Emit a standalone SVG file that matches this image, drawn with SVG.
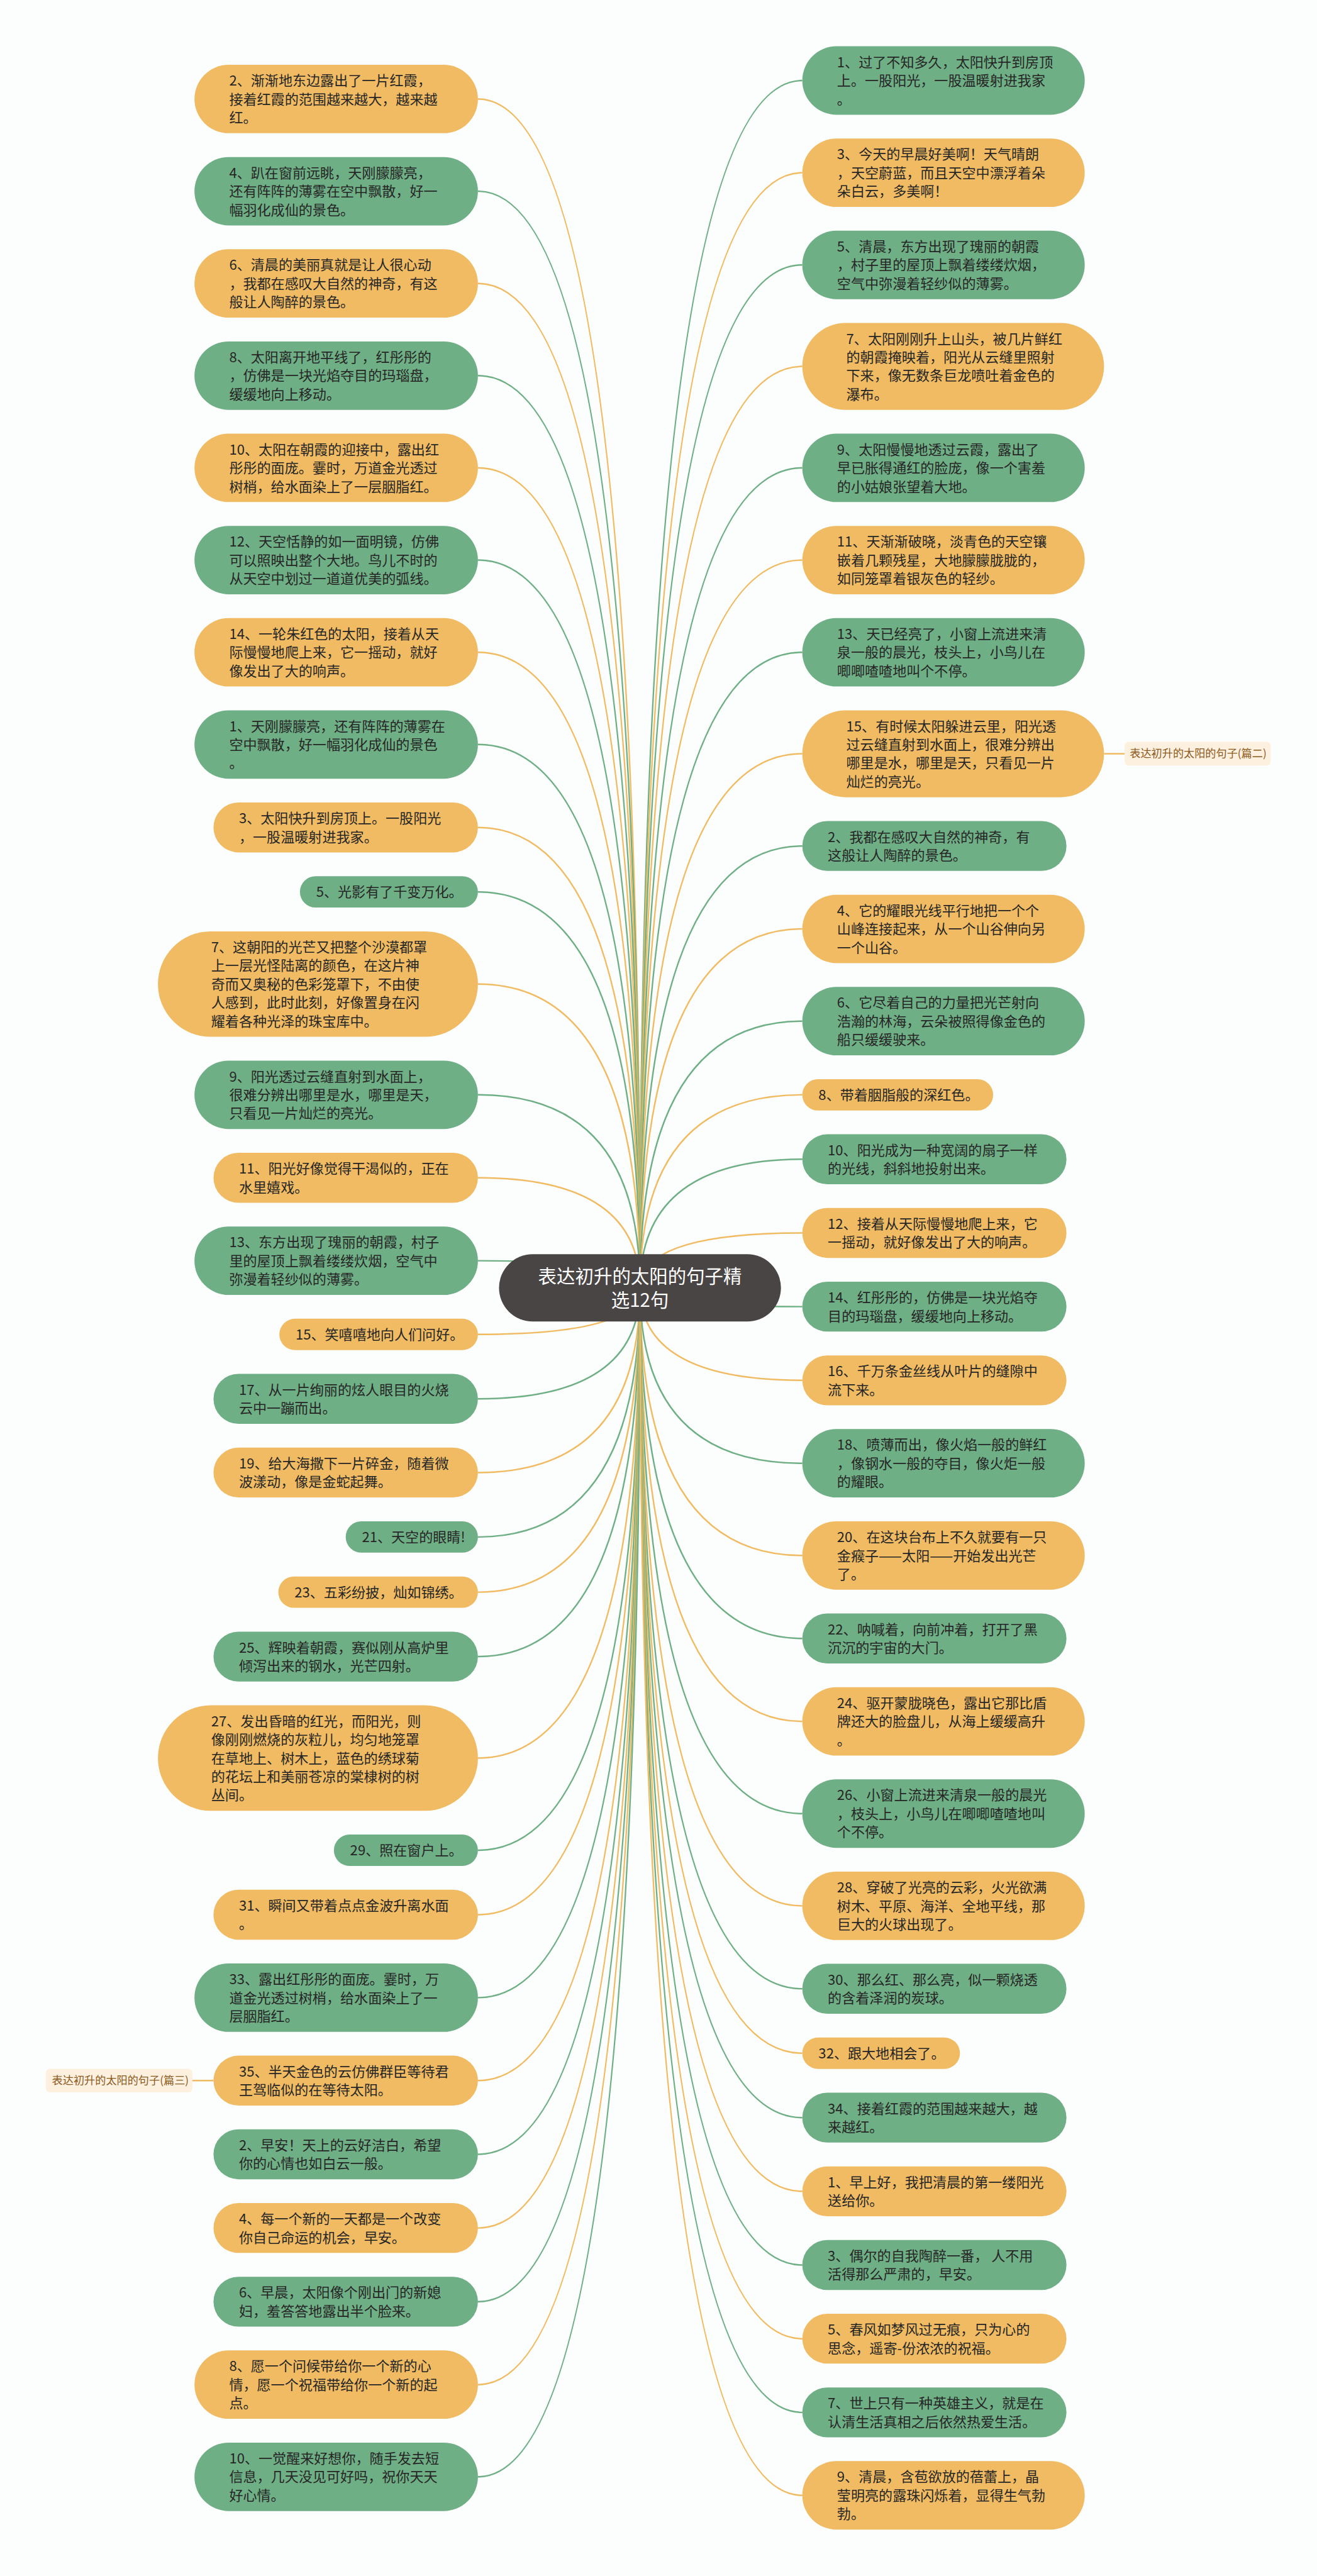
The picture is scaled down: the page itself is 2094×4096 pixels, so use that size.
<svg xmlns="http://www.w3.org/2000/svg" width="2094" height="4096" viewBox="0 0 2094 4096">
<style>
.o{fill:#F0BB62}
.g{fill:#6FAF85}
.t{font-family:"Noto Sans CJK SC","Noto Sans",sans-serif;font-size:27px;fill:#262626}
.ct{font-family:"Noto Sans CJK SC","Noto Sans",sans-serif;font-size:36px;fill:#FFFFFF;text-anchor:middle}
.lt{font-family:"Noto Sans CJK SC","Noto Sans",sans-serif;font-size:21px;fill:#8A5A1C}
.lb{fill:#FDF0DF}
.co{fill:none;stroke:#F0BB62;stroke-width:3}
.cg{fill:none;stroke:#6FAF85;stroke-width:3}
</style>
<rect x="0" y="0" width="2094" height="4096" fill="#FCFEFD"/>
<g transform="scale(0.81797)">
<g id="connectors">
<path class="co" d="M1244 2503.5Q1244 192.5 929 192.5"/>
<path class="cg" d="M1244 2503.5Q1244 371.75 929 371.75"/>
<path class="co" d="M1244 2503.5Q1244 551 929 551"/>
<path class="cg" d="M1244 2503.5Q1244 730.25 929 730.25"/>
<path class="co" d="M1244 2503.5Q1244 909.5 929 909.5"/>
<path class="cg" d="M1244 2503.5Q1244 1088.75 929 1088.75"/>
<path class="co" d="M1244 2503.5Q1244 1268 929 1268"/>
<path class="cg" d="M1244 2503.5Q1244 1447.25 929 1447.25"/>
<path class="co" d="M1244 2503.5Q1244 1608.5 929 1608.5"/>
<path class="cg" d="M1244 2503.5Q1244 1733.75 929 1733.75"/>
<path class="co" d="M1244 2503.5Q1244 1913 929 1913"/>
<path class="cg" d="M1244 2503.5Q1244 2128.25 929 2128.25"/>
<path class="co" d="M1244 2503.5Q1244 2289.5 929 2289.5"/>
<path class="cg" d="M1244 2503.5Q1244 2450.75 929 2450.75"/>
<path class="co" d="M1244 2503.5Q1244 2594 929 2594"/>
<path class="cg" d="M1244 2503.5Q1244 2719.25 929 2719.25"/>
<path class="co" d="M1244 2503.5Q1244 2862.5 929 2862.5"/>
<path class="cg" d="M1244 2503.5Q1244 2987.75 929 2987.75"/>
<path class="co" d="M1244 2503.5Q1244 3095 929 3095"/>
<path class="cg" d="M1244 2503.5Q1244 3220.25 929 3220.25"/>
<path class="co" d="M1244 2503.5Q1244 3417.5 929 3417.5"/>
<path class="cg" d="M1244 2503.5Q1244 3596.75 929 3596.75"/>
<path class="co" d="M1244 2503.5Q1244 3722 929 3722"/>
<path class="cg" d="M1244 2503.5Q1244 3883.25 929 3883.25"/>
<path class="co" d="M1244 2503.5Q1244 4044.5 929 4044.5"/>
<path class="cg" d="M1244 2503.5Q1244 4187.75 929 4187.75"/>
<path class="co" d="M1244 2503.5Q1244 4331 929 4331"/>
<path class="cg" d="M1244 2503.5Q1244 4474.25 929 4474.25"/>
<path class="co" d="M1244 2503.5Q1244 4635.5 929 4635.5"/>
<path class="cg" d="M1244 2503.5Q1244 4814.75 929 4814.75"/>
<path class="cg" d="M1244 2503.5Q1244 156.5 1559.5 156.5"/>
<path class="co" d="M1244 2503.5Q1244 335.75 1559.5 335.75"/>
<path class="cg" d="M1244 2503.5Q1244 515 1559.5 515"/>
<path class="co" d="M1244 2503.5Q1244 712.25 1559.5 712.25"/>
<path class="cg" d="M1244 2503.5Q1244 909.5 1559.5 909.5"/>
<path class="co" d="M1244 2503.5Q1244 1088.75 1559.5 1088.75"/>
<path class="cg" d="M1244 2503.5Q1244 1268 1559.5 1268"/>
<path class="co" d="M1244 2503.5Q1244 1465.25 1559.5 1465.25"/>
<path class="cg" d="M1244 2503.5Q1244 1644.5 1559.5 1644.5"/>
<path class="co" d="M1244 2503.5Q1244 1805.75 1559.5 1805.75"/>
<path class="cg" d="M1244 2503.5Q1244 1985 1559.5 1985"/>
<path class="co" d="M1244 2503.5Q1244 2128.25 1559.5 2128.25"/>
<path class="cg" d="M1244 2503.5Q1244 2253.5 1559.5 2253.5"/>
<path class="co" d="M1244 2503.5Q1244 2396.75 1559.5 2396.75"/>
<path class="cg" d="M1244 2503.5Q1244 2540 1559.5 2540"/>
<path class="co" d="M1244 2503.5Q1244 2683.25 1559.5 2683.25"/>
<path class="cg" d="M1244 2503.5Q1244 2844.5 1559.5 2844.5"/>
<path class="co" d="M1244 2503.5Q1244 3023.75 1559.5 3023.75"/>
<path class="cg" d="M1244 2503.5Q1244 3185 1559.5 3185"/>
<path class="co" d="M1244 2503.5Q1244 3346.25 1559.5 3346.25"/>
<path class="cg" d="M1244 2503.5Q1244 3525.5 1559.5 3525.5"/>
<path class="co" d="M1244 2503.5Q1244 3704.75 1559.5 3704.75"/>
<path class="cg" d="M1244 2503.5Q1244 3866 1559.5 3866"/>
<path class="co" d="M1244 2503.5Q1244 3991.25 1559.5 3991.25"/>
<path class="cg" d="M1244 2503.5Q1244 4116.5 1559.5 4116.5"/>
<path class="co" d="M1244 2503.5Q1244 4259.75 1559.5 4259.75"/>
<path class="cg" d="M1244 2503.5Q1244 4403 1559.5 4403"/>
<path class="co" d="M1244 2503.5Q1244 4546.25 1559.5 4546.25"/>
<path class="cg" d="M1244 2503.5Q1244 4689.5 1559.5 4689.5"/>
<path class="co" d="M1244 2503.5Q1244 4850.75 1559.5 4850.75"/>
<path class="co" d="M2146 1465.25L2186 1465.25"/>
<path class="co" d="M374 4044.5L415 4044.5"/>
</g>

<g id="L1"><rect class="o" x="378" y="126" width="551" height="133" rx="66.5"/><text class="t"><tspan x="445.5" y="166.5">2、渐渐地东边露出了一片红霞，</tspan><tspan x="445.5" y="202.5">接着红霞的范围越来越大，越来越</tspan><tspan x="445.5" y="238.5">红。</tspan></text></g>
<g id="L2"><rect class="g" x="378" y="305.25" width="551" height="133" rx="66.5"/><text class="t"><tspan x="445.5" y="345.75">4、趴在窗前远眺，天刚朦朦亮，</tspan><tspan x="445.5" y="381.75">还有阵阵的薄雾在空中飘散，好一</tspan><tspan x="445.5" y="417.75">幅羽化成仙的景色。</tspan></text></g>
<g id="L3"><rect class="o" x="378" y="484.5" width="551" height="133" rx="66.5"/><text class="t"><tspan x="445.5" y="525">6、清晨的美丽真就是让人很心动</tspan><tspan x="445.5" y="561">，我都在感叹大自然的神奇，有这</tspan><tspan x="445.5" y="597">般让人陶醉的景色。</tspan></text></g>
<g id="L4"><rect class="g" x="378" y="663.75" width="551" height="133" rx="66.5"/><text class="t"><tspan x="445.5" y="704.25">8、太阳离开地平线了，红彤彤的</tspan><tspan x="445.5" y="740.25">，仿佛是一块光焰夺目的玛瑙盘，</tspan><tspan x="445.5" y="776.25">缓缓地向上移动。</tspan></text></g>
<g id="L5"><rect class="o" x="378" y="843" width="551" height="133" rx="66.5"/><text class="t"><tspan x="445.5" y="883.5">10、太阳在朝霞的迎接中，露出红</tspan><tspan x="445.5" y="919.5">彤彤的面庞。霎时，万道金光透过</tspan><tspan x="445.5" y="955.5">树梢，给水面染上了一层胭脂红。</tspan></text></g>
<g id="L6"><rect class="g" x="378" y="1022.25" width="551" height="133" rx="66.5"/><text class="t"><tspan x="445.5" y="1062.75">12、天空恬静的如一面明镜，仿佛</tspan><tspan x="445.5" y="1098.75">可以照映出整个大地。鸟儿不时的</tspan><tspan x="445.5" y="1134.75">从天空中划过一道道优美的弧线。</tspan></text></g>
<g id="L7"><rect class="o" x="378" y="1201.5" width="551" height="133" rx="66.5"/><text class="t"><tspan x="445.5" y="1242">14、一轮朱红色的太阳，接着从天</tspan><tspan x="445.5" y="1278">际慢慢地爬上来，它一摇动，就好</tspan><tspan x="445.5" y="1314">像发出了大的响声。</tspan></text></g>
<g id="L8"><rect class="g" x="378" y="1380.75" width="551" height="133" rx="66.5"/><text class="t"><tspan x="445.5" y="1421.25">1、天刚朦朦亮，还有阵阵的薄雾在</tspan><tspan x="445.5" y="1457.25">空中飘散，好一幅羽化成仙的景色</tspan><tspan x="445.5" y="1493.25">。</tspan></text></g>
<g id="L9"><rect class="o" x="415" y="1560" width="514" height="97" rx="48.5"/><text class="t"><tspan x="464.5" y="1600.5">3、太阳快升到房顶上。一股阳光</tspan><tspan x="464.5" y="1636.5">，一股温暖射进我家。</tspan></text></g>
<g id="L10"><rect class="g" x="583" y="1703.25" width="346" height="61" rx="30.5"/><text class="t"><tspan x="614.5" y="1743.75">5、光影有了千变万化。</tspan></text></g>
<g id="L11"><rect class="o" x="307" y="1810.5" width="622" height="205" rx="102.5"/><text class="t"><tspan x="410.5" y="1851">7、这朝阳的光芒又把整个沙漠都罩</tspan><tspan x="410.5" y="1887">上一层光怪陆离的颜色，在这片神</tspan><tspan x="410.5" y="1923">奇而又奥秘的色彩笼罩下，不由使</tspan><tspan x="410.5" y="1959">人感到，此时此刻，好像置身在闪</tspan><tspan x="410.5" y="1995">耀着各种光泽的珠宝库中。</tspan></text></g>
<g id="L12"><rect class="g" x="378" y="2061.75" width="551" height="133" rx="66.5"/><text class="t"><tspan x="445.5" y="2102.25">9、阳光透过云缝直射到水面上，</tspan><tspan x="445.5" y="2138.25">很难分辨出哪里是水，哪里是天，</tspan><tspan x="445.5" y="2174.25">只看见一片灿烂的亮光。</tspan></text></g>
<g id="L13"><rect class="o" x="415" y="2241" width="514" height="97" rx="48.5"/><text class="t"><tspan x="464.5" y="2281.5">11、阳光好像觉得干渴似的，正在</tspan><tspan x="464.5" y="2317.5">水里嬉戏。</tspan></text></g>
<g id="L14"><rect class="g" x="378" y="2384.25" width="551" height="133" rx="66.5"/><text class="t"><tspan x="445.5" y="2424.75">13、东方出现了瑰丽的朝霞，村子</tspan><tspan x="445.5" y="2460.75">里的屋顶上飘着缕缕炊烟，空气中</tspan><tspan x="445.5" y="2496.75">弥漫着轻纱似的薄雾。</tspan></text></g>
<g id="L15"><rect class="o" x="543" y="2563.5" width="386" height="61" rx="30.5"/><text class="t"><tspan x="574.5" y="2604">15、笑嘻嘻地向人们问好。</tspan></text></g>
<g id="L16"><rect class="g" x="415" y="2670.75" width="514" height="97" rx="48.5"/><text class="t"><tspan x="464.5" y="2711.25">17、从一片绚丽的炫人眼目的火烧</tspan><tspan x="464.5" y="2747.25">云中一蹦而出。</tspan></text></g>
<g id="L17"><rect class="o" x="415" y="2814" width="514" height="97" rx="48.5"/><text class="t"><tspan x="464.5" y="2854.5">19、给大海撒下一片碎金，随着微</tspan><tspan x="464.5" y="2890.5">波漾动，像是金蛇起舞。</tspan></text></g>
<g id="L18"><rect class="g" x="672" y="2957.25" width="257" height="61" rx="30.5"/><text class="t"><tspan x="703.5" y="2997.75">21、天空的眼睛!</tspan></text></g>
<g id="L19"><rect class="o" x="541" y="3064.5" width="388" height="61" rx="30.5"/><text class="t"><tspan x="572.5" y="3105">23、五彩纷披，灿如锦绣。</tspan></text></g>
<g id="L20"><rect class="g" x="415" y="3171.75" width="514" height="97" rx="48.5"/><text class="t"><tspan x="464.5" y="3212.25">25、辉映着朝霞，赛似刚从高炉里</tspan><tspan x="464.5" y="3248.25">倾泻出来的钢水，光芒四射。</tspan></text></g>
<g id="L21"><rect class="o" x="307" y="3315" width="622" height="205" rx="102.5"/><text class="t"><tspan x="410.5" y="3355.5">27、发出昏暗的红光，而阳光，则</tspan><tspan x="410.5" y="3391.5">像刚刚燃烧的灰粒儿，均匀地笼罩</tspan><tspan x="410.5" y="3427.5">在草地上、树木上，蓝色的绣球菊</tspan><tspan x="410.5" y="3463.5">的花坛上和美丽苍凉的棠棣树的树</tspan><tspan x="410.5" y="3499.5">丛间。</tspan></text></g>
<g id="L22"><rect class="g" x="649" y="3566.25" width="280" height="61" rx="30.5"/><text class="t"><tspan x="680.5" y="3606.75">29、照在窗户上。</tspan></text></g>
<g id="L23"><rect class="o" x="415" y="3673.5" width="514" height="97" rx="48.5"/><text class="t"><tspan x="464.5" y="3714">31、瞬间又带着点点金波升离水面</tspan><tspan x="464.5" y="3750">。</tspan></text></g>
<g id="L24"><rect class="g" x="378" y="3816.75" width="551" height="133" rx="66.5"/><text class="t"><tspan x="445.5" y="3857.25">33、露出红彤彤的面庞。霎时，万</tspan><tspan x="445.5" y="3893.25">道金光透过树梢，给水面染上了一</tspan><tspan x="445.5" y="3929.25">层胭脂红。</tspan></text></g>
<g id="L25"><rect class="o" x="415" y="3996" width="514" height="97" rx="48.5"/><text class="t"><tspan x="464.5" y="4036.5">35、半天金色的云仿佛群臣等待君</tspan><tspan x="464.5" y="4072.5">王驾临似的在等待太阳。</tspan></text></g>
<g id="L26"><rect class="g" x="415" y="4139.25" width="514" height="97" rx="48.5"/><text class="t"><tspan x="464.5" y="4179.75">2、早安！天上的云好洁白，希望</tspan><tspan x="464.5" y="4215.75">你的心情也如白云一般。</tspan></text></g>
<g id="L27"><rect class="o" x="415" y="4282.5" width="514" height="97" rx="48.5"/><text class="t"><tspan x="464.5" y="4323">4、每一个新的一天都是一个改变</tspan><tspan x="464.5" y="4359">你自己命运的机会，早安。</tspan></text></g>
<g id="L28"><rect class="g" x="415" y="4425.75" width="514" height="97" rx="48.5"/><text class="t"><tspan x="464.5" y="4466.25">6、早晨，太阳像个刚出门的新媳</tspan><tspan x="464.5" y="4502.25">妇，羞答答地露出半个脸来。</tspan></text></g>
<g id="L29"><rect class="o" x="378" y="4569" width="551" height="133" rx="66.5"/><text class="t"><tspan x="445.5" y="4609.5">8、愿一个问候带给你一个新的心</tspan><tspan x="445.5" y="4645.5">情，愿一个祝福带给你一个新的起</tspan><tspan x="445.5" y="4681.5">点。</tspan></text></g>
<g id="L30"><rect class="g" x="378" y="4748.25" width="551" height="133" rx="66.5"/><text class="t"><tspan x="445.5" y="4788.75">10、一觉醒来好想你，随手发去短</tspan><tspan x="445.5" y="4824.75">信息，几天没见可好吗，祝你天天</tspan><tspan x="445.5" y="4860.75">好心情。</tspan></text></g>

<g id="R1"><rect class="g" x="1559.5" y="90" width="549" height="133" rx="66.5"/><text class="t"><tspan x="1627" y="130.5">1、过了不知多久，太阳快升到房顶</tspan><tspan x="1627" y="166.5">上。一股阳光，一股温暖射进我家</tspan><tspan x="1627" y="202.5">。</tspan></text></g>
<g id="R2"><rect class="o" x="1559.5" y="269.25" width="549" height="133" rx="66.5"/><text class="t"><tspan x="1627" y="309.75">3、今天的早晨好美啊！天气晴朗</tspan><tspan x="1627" y="345.75">，天空蔚蓝，而且天空中漂浮着朵</tspan><tspan x="1627" y="381.75">朵白云，多美啊！</tspan></text></g>
<g id="R3"><rect class="g" x="1559.5" y="448.5" width="549" height="133" rx="66.5"/><text class="t"><tspan x="1627" y="489">5、清晨，东方出现了瑰丽的朝霞</tspan><tspan x="1627" y="525">，村子里的屋顶上飘着缕缕炊烟，</tspan><tspan x="1627" y="561">空气中弥漫着轻纱似的薄雾。</tspan></text></g>
<g id="R4"><rect class="o" x="1559.5" y="627.75" width="586.5" height="169" rx="84.5"/><text class="t"><tspan x="1645" y="668.25">7、太阳刚刚升上山头，被几片鲜红</tspan><tspan x="1645" y="704.25">的朝霞掩映着，阳光从云缝里照射</tspan><tspan x="1645" y="740.25">下来，像无数条巨龙喷吐着金色的</tspan><tspan x="1645" y="776.25">瀑布。</tspan></text></g>
<g id="R5"><rect class="g" x="1559.5" y="843" width="549" height="133" rx="66.5"/><text class="t"><tspan x="1627" y="883.5">9、太阳慢慢地透过云霞，露出了</tspan><tspan x="1627" y="919.5">早已胀得通红的脸庞，像一个害羞</tspan><tspan x="1627" y="955.5">的小姑娘张望着大地。</tspan></text></g>
<g id="R6"><rect class="o" x="1559.5" y="1022.25" width="549" height="133" rx="66.5"/><text class="t"><tspan x="1627" y="1062.75">11、天渐渐破晓，淡青色的天空镶</tspan><tspan x="1627" y="1098.75">嵌着几颗残星，大地朦朦胧胧的，</tspan><tspan x="1627" y="1134.75">如同笼罩着银灰色的轻纱。</tspan></text></g>
<g id="R7"><rect class="g" x="1559.5" y="1201.5" width="549" height="133" rx="66.5"/><text class="t"><tspan x="1627" y="1242">13、天已经亮了，小窗上流进来清</tspan><tspan x="1627" y="1278">泉一般的晨光，枝头上，小鸟儿在</tspan><tspan x="1627" y="1314">唧唧喳喳地叫个不停。</tspan></text></g>
<g id="R8"><rect class="o" x="1559.5" y="1380.75" width="586.5" height="169" rx="84.5"/><text class="t"><tspan x="1645" y="1421.25">15、有时候太阳躲进云里，阳光透</tspan><tspan x="1645" y="1457.25">过云缝直射到水面上，很难分辨出</tspan><tspan x="1645" y="1493.25">哪里是水，哪里是天，只看见一片</tspan><tspan x="1645" y="1529.25">灿烂的亮光。</tspan></text></g>
<g id="R9"><rect class="g" x="1559.5" y="1596" width="513.5" height="97" rx="48.5"/><text class="t"><tspan x="1609" y="1636.5">2、我都在感叹大自然的神奇，有</tspan><tspan x="1609" y="1672.5">这般让人陶醉的景色。</tspan></text></g>
<g id="R10"><rect class="o" x="1559.5" y="1739.25" width="549" height="133" rx="66.5"/><text class="t"><tspan x="1627" y="1779.75">4、它的耀眼光线平行地把一个个</tspan><tspan x="1627" y="1815.75">山峰连接起来，从一个山谷伸向另</tspan><tspan x="1627" y="1851.75">一个山谷。</tspan></text></g>
<g id="R11"><rect class="g" x="1559.5" y="1918.5" width="549" height="133" rx="66.5"/><text class="t"><tspan x="1627" y="1959">6、它尽着自己的力量把光芒射向</tspan><tspan x="1627" y="1995">浩瀚的林海，云朵被照得像金色的</tspan><tspan x="1627" y="2031">船只缓缓驶来。</tspan></text></g>
<g id="R12"><rect class="o" x="1559.5" y="2097.75" width="371" height="61" rx="30.5"/><text class="t"><tspan x="1591" y="2138.25">8、带着胭脂般的深红色。</tspan></text></g>
<g id="R13"><rect class="g" x="1559.5" y="2205" width="513.5" height="97" rx="48.5"/><text class="t"><tspan x="1609" y="2245.5">10、阳光成为一种宽阔的扇子一样</tspan><tspan x="1609" y="2281.5">的光线，斜斜地投射出来。</tspan></text></g>
<g id="R14"><rect class="o" x="1559.5" y="2348.25" width="513.5" height="97" rx="48.5"/><text class="t"><tspan x="1609" y="2388.75">12、接着从天际慢慢地爬上来，它</tspan><tspan x="1609" y="2424.75">一摇动，就好像发出了大的响声。</tspan></text></g>
<g id="R15"><rect class="g" x="1559.5" y="2491.5" width="513.5" height="97" rx="48.5"/><text class="t"><tspan x="1609" y="2532">14、红彤彤的，仿佛是一块光焰夺</tspan><tspan x="1609" y="2568">目的玛瑙盘，缓缓地向上移动。</tspan></text></g>
<g id="R16"><rect class="o" x="1559.5" y="2634.75" width="513.5" height="97" rx="48.5"/><text class="t"><tspan x="1609" y="2675.25">16、千万条金丝线从叶片的缝隙中</tspan><tspan x="1609" y="2711.25">流下来。</tspan></text></g>
<g id="R17"><rect class="g" x="1559.5" y="2778" width="549" height="133" rx="66.5"/><text class="t"><tspan x="1627" y="2818.5">18、喷薄而出，像火焰一般的鲜红</tspan><tspan x="1627" y="2854.5">，像钢水一般的夺目，像火炬一般</tspan><tspan x="1627" y="2890.5">的耀眼。</tspan></text></g>
<g id="R18"><rect class="o" x="1559.5" y="2957.25" width="549" height="133" rx="66.5"/><text class="t"><tspan x="1627" y="2997.75">20、在这块台布上不久就要有一只</tspan><tspan x="1627" y="3033.75">金瘊子——太阳——开始发出光芒</tspan><tspan x="1627" y="3069.75">了。</tspan></text></g>
<g id="R19"><rect class="g" x="1559.5" y="3136.5" width="513.5" height="97" rx="48.5"/><text class="t"><tspan x="1609" y="3177">22、呐喊着，向前冲着，打开了黑</tspan><tspan x="1609" y="3213">沉沉的宇宙的大门。</tspan></text></g>
<g id="R20"><rect class="o" x="1559.5" y="3279.75" width="549" height="133" rx="66.5"/><text class="t"><tspan x="1627" y="3320.25">24、驱开蒙胧晓色，露出它那比盾</tspan><tspan x="1627" y="3356.25">牌还大的脸盘儿，从海上缓缓高升</tspan><tspan x="1627" y="3392.25">。</tspan></text></g>
<g id="R21"><rect class="g" x="1559.5" y="3459" width="549" height="133" rx="66.5"/><text class="t"><tspan x="1627" y="3499.5">26、小窗上流进来清泉一般的晨光</tspan><tspan x="1627" y="3535.5">，枝头上，小鸟儿在唧唧喳喳地叫</tspan><tspan x="1627" y="3571.5">个不停。</tspan></text></g>
<g id="R22"><rect class="o" x="1559.5" y="3638.25" width="549" height="133" rx="66.5"/><text class="t"><tspan x="1627" y="3678.75">28、穿破了光亮的云彩，火光欲满</tspan><tspan x="1627" y="3714.75">树木、平原、海洋、全地平线，那</tspan><tspan x="1627" y="3750.75">巨大的火球出现了。</tspan></text></g>
<g id="R23"><rect class="g" x="1559.5" y="3817.5" width="513.5" height="97" rx="48.5"/><text class="t"><tspan x="1609" y="3858">30、那么红、那么亮，似一颗烧透</tspan><tspan x="1609" y="3894">的含着泽润的炭球。</tspan></text></g>
<g id="R24"><rect class="o" x="1559.5" y="3960.75" width="306.5" height="61" rx="30.5"/><text class="t"><tspan x="1591" y="4001.25">32、跟大地相会了。</tspan></text></g>
<g id="R25"><rect class="g" x="1559.5" y="4068" width="513.5" height="97" rx="48.5"/><text class="t"><tspan x="1609" y="4108.5">34、接着红霞的范围越来越大，越</tspan><tspan x="1609" y="4144.5">来越红。</tspan></text></g>
<g id="R26"><rect class="o" x="1559.5" y="4211.25" width="513.5" height="97" rx="48.5"/><text class="t"><tspan x="1609" y="4251.75">1、早上好，我把清晨的第一缕阳光</tspan><tspan x="1609" y="4287.75">送给你。</tspan></text></g>
<g id="R27"><rect class="g" x="1559.5" y="4354.5" width="513.5" height="97" rx="48.5"/><text class="t"><tspan x="1609" y="4395">3、偶尔的自我陶醉一番， 人不用</tspan><tspan x="1609" y="4431">活得那么严肃的，早安。</tspan></text></g>
<g id="R28"><rect class="o" x="1559.5" y="4497.75" width="513.5" height="97" rx="48.5"/><text class="t"><tspan x="1609" y="4538.25">5、春风如梦风过无痕，只为心的</tspan><tspan x="1609" y="4574.25">思念，遥寄-份浓浓的祝福。</tspan></text></g>
<g id="R29"><rect class="g" x="1559.5" y="4641" width="513.5" height="97" rx="48.5"/><text class="t"><tspan x="1609" y="4681.5">7、世上只有一种英雄主义，就是在</tspan><tspan x="1609" y="4717.5">认清生活真相之后依然热爱生活。</tspan></text></g>
<g id="R30"><rect class="o" x="1559.5" y="4784.25" width="549" height="133" rx="66.5"/><text class="t"><tspan x="1627" y="4824.75">9、清晨，含苞欲放的蓓蕾上，晶</tspan><tspan x="1627" y="4860.75">莹明亮的露珠闪烁着，显得生气勃</tspan><tspan x="1627" y="4896.75">勃。</tspan></text></g>

<g id="label-right"><rect class="lb" x="2186" y="1442" width="284" height="46" rx="8"/><text class="lt" x="2196" y="1472.5">表达初升的太阳的句子(篇二)</text></g>
<g id="label-left"><rect class="lb" x="89" y="4021.5" width="285" height="46" rx="8"/><text class="lt" x="101" y="4052">表达初升的太阳的句子(篇三)</text></g>

<g id="center"><rect x="970" y="2438" width="548" height="131" rx="65.5" fill="#4A4545"/><text class="ct"><tspan x="1244" y="2494">表达初升的太阳的句子精</tspan><tspan x="1244" y="2540">选12句</tspan></text></g>
</g>
</svg>
